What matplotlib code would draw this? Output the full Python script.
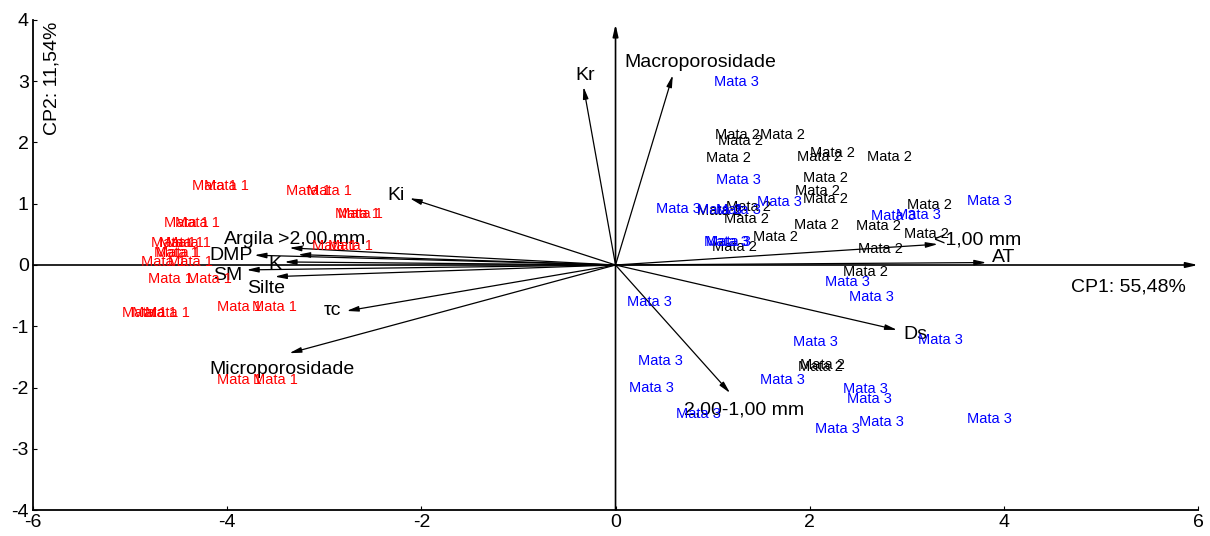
import numpy as np
import matplotlib.pyplot as plt

plt.rcParams['font.family'] = ['Liberation Sans', 'DejaVu Sans']
plt.rcParams['axes.unicode_minus'] = False

# variable vectors (arrow tips) and where their labels sit
var_names = ['Kr', 'Macroporosidade', 'Ki', 'Argila', '>2,00 mm', 'DMP', 'K', 'SM',
             'Silte', 'τc', 'Microporosidade', 'Ds', '2,00-1,00 mm', '<1,00 mm', 'AT']
var_x = [-0.33, 0.59, -2.12, -3.27, -3.36, -3.72, -3.41, -3.80,
         -3.51, -2.77, -3.36, 2.90, 1.18, 3.32, 3.82]
var_y = [2.91, 3.10, 1.09, 0.17, 0.28, 0.16, 0.05, -0.08,
         -0.19, -0.75, -1.44, -1.06, -2.09, 0.34, 0.04]
lab_x = [-0.41, 0.09, -2.35, -4.03, -3.48, -4.18, -3.58, -4.15,
         -3.79, -3.01, -4.18, 2.97, 0.71, 3.28, 3.88]
lab_y = [3.10, 3.31, 1.14, 0.41, 0.42, 0.15, 0.00, -0.17,
         -0.38, -0.75, -1.70, -1.13, -2.37, 0.40, 0.13]

# case scores
mata1_x = [-4.36, -4.24, -3.39, -3.18, -2.89, -2.86, -4.65, -4.54, -4.79, -4.70, -4.63,
           -4.75, -4.73, -4.89, -4.61, -4.82, -4.41, -5.08, -4.98, -4.85, -4.10, -3.74,
           -3.13, -2.96, -4.10, -3.73]
mata1_y = [1.29, 1.29, 1.21, 1.21, 0.84, 0.84, 0.68, 0.68, 0.36, 0.36, 0.36,
           0.19, 0.19, 0.05, 0.05, -0.23, -0.23, -0.78, -0.78, -0.78, -0.68, -0.68,
           0.31, 0.31, -1.88, -1.88]

mata2_x = [1.02, 1.06, 1.49, 0.93, 1.87, 2.00, 2.59, 1.93, 1.85, 1.93, 1.14, 1.12,
           1.84, 2.48, 3.00, 2.97, 1.42, 0.99, 2.50, 2.34, 0.84, 1.88, 1.90]
mata2_y = [2.12, 2.02, 2.12, 1.74, 1.77, 1.83, 1.77, 1.42, 1.21, 1.07, 0.94, 0.75,
           0.65, 0.63, 0.98, 0.50, 0.46, 0.30, 0.26, -0.12, 0.88, -1.66, -1.64]

mata3_x = [1.01, 1.04, 0.42, 0.84, 1.03, 1.46, 2.63, 2.89, 0.91, 0.93, 3.62, 2.16,
           2.40, 0.12, 1.83, 3.12, 0.23, 0.14, 1.49, 2.34, 2.38, 0.62, 2.05, 2.51, 3.62]
mata3_y = [2.99, 1.38, 0.92, 0.90, 0.90, 1.03, 0.80, 0.82, 0.38, 0.38, 1.05, -0.27,
           -0.53, -0.60, -1.25, -1.22, -1.56, -2.00, -1.87, -2.03, -2.18, -2.44, -2.67,
           -2.56, -2.52]

fig = plt.figure(figsize=(12.1, 5.36), dpi=100)
ax = fig.add_axes([0.0273, 0.0485, 0.9628, 0.9142])
ax.set_xlim(-6, 6)
ax.set_ylim(-4, 4)

arrow_kw = dict(arrowstyle='-|>,head_length=0.7,head_width=0.16',
                color='black', shrinkA=0, shrinkB=0)

# axes through origin
ax.annotate('', xy=(6, 0), xytext=(-6, 0), arrowprops=dict(arrow_kw, lw=1.2))
ax.annotate('', xy=(0, 3.93), xytext=(0, -4), arrowprops=dict(arrow_kw, lw=1.2))

for i in range(len(var_names)):
    ax.annotate('', xy=(var_x[i], var_y[i]), xytext=(0, 0),
                arrowprops=dict(arrow_kw, lw=0.9))
    ax.text(lab_x[i], lab_y[i], var_names[i], fontsize=14, ha='left', va='center')

for x, y in zip(mata1_x, mata1_y):
    ax.text(x, y, 'Mata 1', color='red', fontsize=10.5, ha='left', va='center')
for x, y in zip(mata2_x, mata2_y):
    ax.text(x, y, 'Mata 2', color='black', fontsize=10.5, ha='left', va='center')
for x, y in zip(mata3_x, mata3_y):
    ax.text(x, y, 'Mata 3', color='blue', fontsize=10.5, ha='left', va='center')

ax.text(4.69, -0.36, 'CP1: 55,48%', fontsize=14, ha='left', va='center')
ax.text(-5.80, 3.97, 'CP2: 11,54%', fontsize=14, ha='center', va='top', rotation=90)

ax.spines['top'].set_visible(False)
ax.spines['right'].set_visible(False)
ax.spines['left'].set_linewidth(1.3)
ax.spines['bottom'].set_linewidth(1.3)
ax.set_xticks(np.arange(-6, 7, 2))
ax.set_yticks(np.arange(-4, 5, 1))
ax.tick_params(direction='in', length=3, labelsize=14, pad=3)

plt.savefig('out.png', dpi=100)
